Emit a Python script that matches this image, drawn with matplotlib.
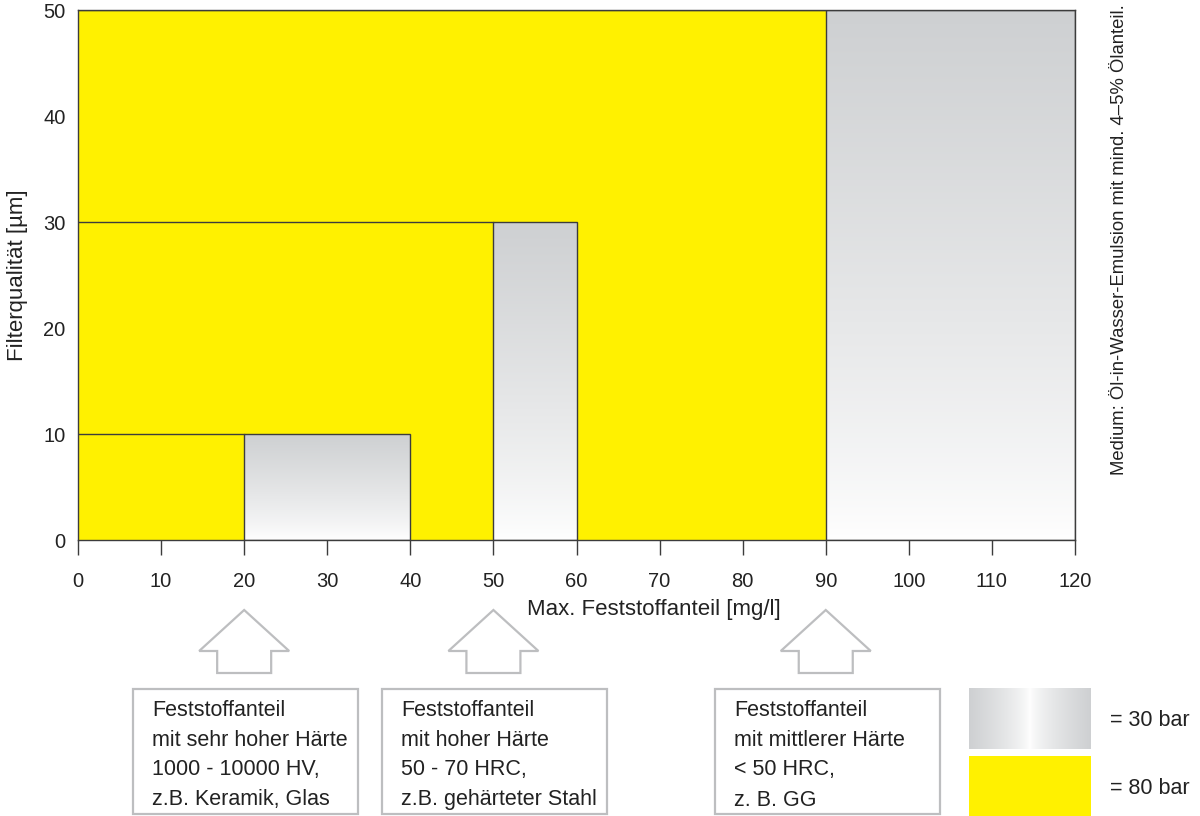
import numpy as np
import matplotlib
matplotlib.use("Agg")
import matplotlib.pyplot as plt
from matplotlib.patches import Rectangle, Polygon

plt.rcParams['font.family'] = ['Liberation Sans', 'DejaVu Sans']

YELLOW = '#FFF100'
GRAY = np.array([0.808, 0.816, 0.824])
LINE = '#3c3c3c'
OUTLINE = '#BDBEC0'
TEXT = '#222222'

# zones of 30 bar (gray), the rest is 80 bar (yellow)
zone_x0 = [20, 50, 90]
zone_x1 = [40, 60, 120]
zone_top = [10, 30, 50]

x_ticks = [0, 10, 20, 30, 40, 50, 60, 70, 80, 90, 100, 110, 120]
y_ticks = [0, 10, 20, 30, 40, 50]

box_texts = [
    ["Feststoffanteil", "mit sehr hoher Härte", "1000 - 10000 HV,", "z.B. Keramik, Glas"],
    ["Feststoffanteil", "mit hoher Härte", "50 - 70 HRC,", "z.B. gehärteter Stahl"],
    ["Feststoffanteil", "mit mittlerer Härte", "< 50 HRC,", "z. B. GG"],
]
legend_labels = ["= 30 bar", "= 80 bar"]


def vertical_gradient(n=256):
    t = np.linspace(0, 1, n)[:, None]  # 0 bottom, 1 top
    t = t ** 0.8
    img = 1 - (1 - GRAY[None, :]) * t[:, :]
    return img[:, None, :]


def horizontal_gradient(n=256):
    u = np.linspace(0, 1, n)
    t = np.abs(2 * u - 1) ** 0.7
    img = 1 - (1 - GRAY[None, :]) * t[:, None]
    return img[None, :, :]


fig = plt.figure(figsize=(12, 8.16), dpi=100)
ax = fig.add_axes([78 / 1200, 1 - 540 / 816, 997 / 1200, 530 / 816])
ax.set_facecolor(YELLOW)

for x0, x1, top in zip(zone_x0, zone_x1, zone_top):
    ax.imshow(vertical_gradient(), extent=(x0, x1, 0, top), origin='lower',
              aspect='auto', interpolation='bilinear', zorder=1)
    ax.add_patch(Rectangle((x0, 0), x1 - x0, top, fill=False, ec=LINE, lw=1.0, zorder=3))
    ax.plot([0, x0], [top, top], color=LINE, lw=1.0, zorder=3)

ax.set_xlim(0, 120)
ax.set_ylim(0, 50)
ax.set_xticks(x_ticks)
ax.set_yticks(y_ticks)
for s in ax.spines.values():
    s.set_color(LINE)
    s.set_linewidth(1.0)
ax.tick_params(axis='x', direction='out', length=11, width=1.0, color=LINE,
               pad=12, labelsize=14.5, labelcolor=TEXT)
ax.tick_params(axis='y', length=0, pad=9, labelsize=14.5, labelcolor=TEXT)

ax.set_xlabel("Max. Feststoffanteil [mg/l]", fontsize=16, color=TEXT)
ax.xaxis.set_label_coords((654 - 78) / 997, (540 - 599) / 530)
ax.set_ylabel("Filterqualität [µm]", fontsize=16, color=TEXT)
ax.yaxis.set_label_coords((18 - 78) / 997, 0.5)
ax.yaxis.label.set_va('center')

fig.text(1119 / 1200, 1 - 4 / 816, "Medium: Öl-in-Wasser-Emulsion mit mind. 4–5% Ölanteil.",
         rotation=90, ha='center', va='top', fontsize=13.3, color=TEXT)

# overlay in pixel coordinates for arrows, boxes and legend
ov = fig.add_axes([0, 0, 1, 1])
ov.set_xlim(0, 1200)
ov.set_ylim(816, 0)
ov.axis('off')
ov.patch.set_alpha(0)

for x0, lines in zip(zone_x0, box_texts):
    cx = ax.transData.transform((x0, 0))[0]
    arrow = [(cx, 610), (cx + 45, 651), (cx + 27, 651), (cx + 27, 673),
             (cx - 27, 673), (cx - 27, 651), (cx - 45, 651)]
    ov.add_patch(Polygon(arrow, closed=True, fc='white', ec=OUTLINE, lw=1.6))
    left = cx - 111
    ov.add_patch(Rectangle((left, 689), 225, 125, fc='white', ec=OUTLINE, lw=1.6))
    for i, line in enumerate(lines):
        ov.text(left + 19, 710 + i * 30, line, ha='left', va='center',
                fontsize=15.5, color=TEXT)

ov.imshow(horizontal_gradient(), extent=(969, 1091, 749, 688), aspect='auto',
          interpolation='bilinear')
ov.add_patch(Rectangle((969, 756), 122, 62, fc=YELLOW, ec='none'))
ov.set_xlim(0, 1200)
ov.set_ylim(816, 0)
ov.text(1110, 720, legend_labels[0], ha='left', va='center', fontsize=15.5, color=TEXT)
ov.text(1110, 788, legend_labels[1], ha='left', va='center', fontsize=15.5, color=TEXT)

fig.savefig("out.png", dpi=100)
